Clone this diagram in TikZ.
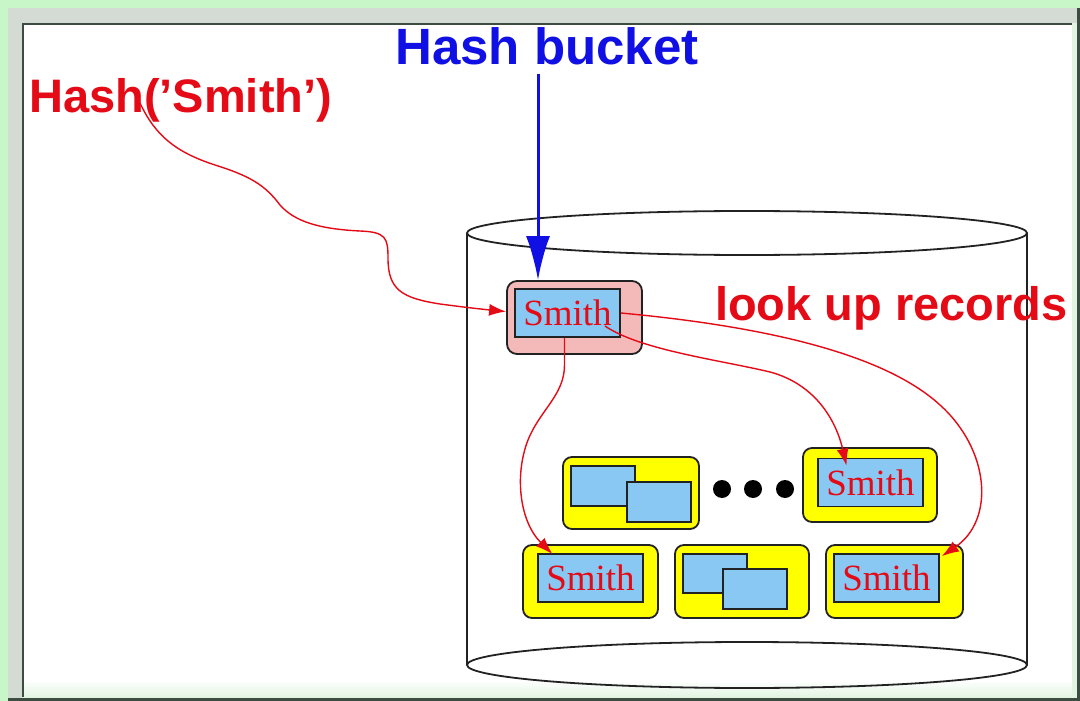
\documentclass[tikz,border=0pt]{standalone}
\usepackage{fontspec}
\usetikzlibrary{arrows.meta,calc}
\newfontfamily\labelfont{Liberation Sans}
\newfontfamily\recfont{Liberation Serif}

\definecolor{bggreen}{RGB}{200,246,200}
\definecolor{bandgray}{RGB}{212,218,212}
\definecolor{palegreen}{RGB}{226,244,226}
\definecolor{framedark}{RGB}{60,76,64}
\definecolor{inkred}{RGB}{228,10,22}
\definecolor{inkblue}{RGB}{16,16,228}
\definecolor{cellblue}{RGB}{136,200,242}
\definecolor{pageyellow}{RGB}{255,255,0}
\definecolor{bucketpink}{RGB}{244,186,186}
\definecolor{boxline}{RGB}{34,34,34}

\tikzset{
  lbl/.style={font=\labelfont\bfseries\fontsize{47}{50}\selectfont, text=inkred, inner sep=0pt, anchor=base west},
  pagebox/.style={draw=boxline, fill=pageyellow, line width=1.8pt, rounded corners=9pt, inner sep=0pt},
  bucketbox/.style={draw=boxline, fill=bucketpink, line width=1.8pt, rounded corners=10pt, inner sep=0pt},
  keycell/.style={draw=boxline, fill=cellblue, line width=1.8pt, inner sep=0pt,
    minimum width=105pt, minimum height=48pt, text=inkred, font=\recfont\fontsize{37}{40}\selectfont},
  blankcell/.style={draw=boxline, fill=cellblue, line width=1.8pt, inner sep=0pt,
    minimum width=64pt, minimum height=40pt},
  dot/.style={circle, fill=black, inner sep=0pt, minimum size=18pt},
  link/.style={draw=inkred, line width=1.4pt, -{Latex[length=17pt,width=12pt]}},
  drum/.style={draw=boxline, line width=1.8pt},
}

\begin{document}
\begin{tikzpicture}[x=1pt, y=-1pt]
\useasboundingbox (0,0) rectangle (1080,701);

% window frame
\fill[bggreen] (0,0) rectangle (1080,701);
\fill[bandgray] (8,8) rectangle (1080,701);
\fill[palegreen] (22,23) rectangle (1080,701);
\shade[top color=white, bottom color=palegreen] (22,680) rectangle (1072,697);
\fill[white] (22,23) rectangle (1072,682);
\draw[framedark, line width=2.5pt] (23,697) -- (23,24) -- (1072,24);
\draw[framedark, line width=3pt] (8,699.5) -- (1078.5,699.5) -- (1078.5,8);

% disk drum
\draw[drum] (747,233) ellipse [x radius=280, y radius=22];
\draw[drum] (747,665) ellipse [x radius=280, y radius=23];
\draw[drum] (467,233) -- (467,665);
\draw[drum] (1027,233) -- (1027,665);

% labels
\node[lbl] (hashfn) at (29,113) {Hash(’Smith’)};
\node[lbl, text=inkblue, font=\labelfont\bfseries\fontsize{51}{54}\selectfont] (hbucket) at (395,65) {Hash bucket};
\node[lbl] (lookup) at (715,320) {look up records};

% hash bucket entry
\node[bucketbox, minimum width=135pt, minimum height=73pt] (bucket) at (574.5,317.5) {};
\node[keycell] (bkey) at (567.5,313) {Smith};

% data pages
\node[pagebox, minimum width=136pt, minimum height=72pt] (p1) at (631,493) {};
\node[blankcell] (p1a) at (603,486) {};
\node[blankcell] (p1b) at (659,502) {};

\node[dot] (d1) at (722,489) {};
\node[dot] (d2) at (753,489) {};
\node[dot] (d3) at (785,489) {};

\node[pagebox, minimum width=134pt, minimum height=74pt] (p2) at (870,485) {};
\node[keycell] (k2) at (870.5,482.5) {Smith};

\node[pagebox, minimum width=135pt, minimum height=73pt] (p3) at (590.5,581.5) {};
\node[keycell] (k3) at (590.5,578) {Smith};

\node[pagebox, minimum width=134pt, minimum height=73pt] (p4) at (742,581.5) {};
\node[blankcell, minimum height=39pt] (p4a) at (715,573.5) {};
\node[blankcell] (p4b) at (755,589) {};

\node[pagebox, minimum width=137pt, minimum height=73pt] (p5) at (894.5,581.5) {};
\node[keycell] (k5) at (886.5,578) {Smith};

% bucket pointer
\coordinate (btip) at ($(bucket.north)+(-36.5,0)$);
\draw[inkblue, line width=3pt, -{Latex[length=44pt,width=24pt]}]
  ($(btip |- hbucket.south)+(0,8)$) -- (btip);

% hash function to bucket
\coordinate (hstart) at (140,103);
\draw[link] (hstart)
  .. controls (155,135) and (175,152) .. (215,165)
  .. controls (250,176) and (265,185) .. (280,205)
  .. controls (295,222) and (320,229) .. (360,231)
  .. controls (386,232) and (388,238) .. (388,258)
  .. controls (388,290) and (402,298) .. (440,304)
  .. controls (470,308) and (490,310) .. ($(bucket.west)+(0,-6)$);

% bucket to matching records
\draw[link] ($(bkey.south)+(-3,0)$) -- (564.5,365)
  .. controls (564.5,395) and (540,410) .. (528,440)
  .. controls (514,476) and (520,522) .. ($(k3.north)+(-38,1)$);
\draw[link] (605,326)
  .. controls (640,350) and (720,360) .. (770,372)
  .. controls (815,384) and (836,420) .. ($(k2.north)+(-24,8)$);
\draw[link] (bkey.east)
  .. controls (750,325) and (880,350) .. (940,405)
  .. controls (990,450) and (995,520) .. ($(k5.north east)+(2,3)$);
\end{tikzpicture}
\end{document}
